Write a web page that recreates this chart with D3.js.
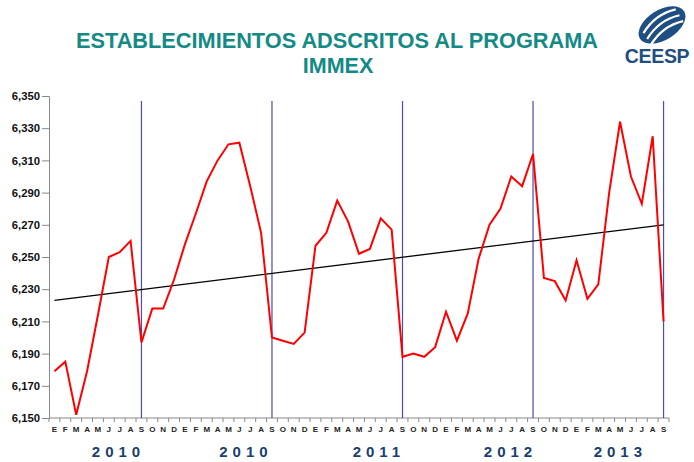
<!DOCTYPE html>
<html>
<head>
<meta charset="utf-8">
<script src="https://cdnjs.cloudflare.com/ajax/libs/d3/7.8.5/d3.min.js"></script>
<style>
  body { margin: 0; background: #fff; }
  svg { display: block; }
</style>
</head>
<body>
<div id="chart"></div>
<script>
// month labels (E = enero ... S = septiembre), Jan 2009 - Sep 2013
const monthLabels = ["E","F","M","A","M","J","J","A","S",
  "O","N","D","E","F","M","A","M","J","J","A","S",
  "O","N","D","E","F","M","A","M","J","J","A","S",
  "O","N","D","E","F","M","A","M","J","J","A","S",
  "O","N","D","E","F","M","A","M","J","J","A","S"];

const establecimientos = [6179, 6185, 6152, 6179, 6214, 6250, 6253, 6260, 6197,
  6218, 6218, 6236, 6258, 6277, 6297, 6310, 6320, 6321, 6294, 6265, 6200,
  6198, 6196, 6203, 6257, 6265, 6285, 6272, 6252, 6255, 6274, 6267, 6188,
  6190, 6188, 6194, 6216, 6198, 6215, 6249, 6270, 6280, 6300, 6294, 6314,
  6237, 6235, 6223, 6248, 6224, 6233, 6290, 6334, 6300, 6283, 6325, 6210];

// linear trend, value at first and last month
const trendValues = [6223, 6270];

// months where the blue separators are drawn (every September)
const separatorIdx = [8, 20, 32, 44, 56];

const yearLabels = ["2010", "2010", "2011", "2012", "2013"];
const yearCenters = [5.66, 17.38, 29.6, 41.7, 51.8]; // in month units

const yTicks = [6150, 6170, 6190, 6210, 6230, 6250, 6270, 6290, 6310, 6330, 6350];

const W = 694, H = 462;
const margin = { top: 96, right: 25, bottom: 44, left: 49 };
const width = W - margin.left - margin.right;
const height = H - margin.top - margin.bottom;

const svg = d3.select("#chart").append("svg")
  .attr("width", W).attr("height", H)
  .style("font-family", "'Liberation Sans', Arial, sans-serif");

// title
const title = svg.append("text")
  .attr("x", 337).attr("text-anchor", "middle")
  .style("font-weight", "bold").style("font-size", "21.5px")
  .style("fill", "#138a86");
title.append("tspan").attr("x", 337).attr("y", 48)
  .attr("textLength", 522).attr("lengthAdjust", "spacingAndGlyphs")
  .text("ESTABLECIMIENTOS ADSCRITOS AL PROGRAMA");
title.append("tspan").attr("x", 338).attr("y", 73).text("IMMEX");

// logo
const logo = svg.append("g");
const blob = logo.append("g").attr("transform", "translate(662,25) rotate(-32)");
blob.append("ellipse").attr("rx", 26).attr("ry", 15).attr("fill", "#1f4f82");
[-7, 0, 7].forEach(dy => {
  blob.append("path")
    .attr("d", `M-20,${dy + 4} Q0,${dy - 6} 20,${dy + 1}`)
    .attr("fill", "none").attr("stroke", "#fff").attr("stroke-width", 2.2);
});
logo.append("text").attr("x", 657).attr("y", 63)
  .attr("text-anchor", "middle")
  .style("font-weight", "bold").style("font-size", "19.5px")
  .style("letter-spacing", "-0.3px")
  .style("fill", "#1f4f82").text("CEESP");

const g = svg.append("g").attr("transform", `translate(${margin.left},${margin.top})`);

const x = d3.scaleBand().domain(d3.range(monthLabels.length)).range([0, width]);
const xc = i => x(i) + x.bandwidth() / 2;
const y = d3.scaleLinear().domain([6150, 6350]).range([height, 0]);

// y axis
const yAxis = g.append("g").call(d3.axisLeft(y).tickValues(yTicks)
  .tickFormat(d3.format(",")).tickSize(7).tickPadding(2));
yAxis.select(".domain").attr("stroke", "#888");
yAxis.selectAll(".tick line").attr("stroke", "#888");
yAxis.selectAll(".tick text").style("font-size", "11.3px").style("font-weight", "bold")
  .style("fill", "#111").style("font-family", "'Liberation Sans', Arial, sans-serif");

// x axis: ticks on month boundaries
const xAxis = g.append("g").attr("transform", `translate(0,${height})`);
xAxis.append("line").attr("x1", 0).attr("x2", width).attr("stroke", "#888");
xAxis.selectAll("line.tk").data(d3.range(monthLabels.length + 1)).join("line")
  .attr("class", "tk")
  .attr("x1", i => i * x.step()).attr("x2", i => i * x.step())
  .attr("y1", 0).attr("y2", 4).attr("stroke", "#888");
xAxis.selectAll("text").data(monthLabels).join("text")
  .attr("x", (d, i) => xc(i)).attr("y", 14)
  .attr("text-anchor", "middle")
  .style("font-size", "8px").style("font-weight", "bold").style("fill", "#222")
  .text(d => d);

// year labels
g.selectAll("text.year").data(yearLabels).join("text")
  .attr("class", "year")
  .attr("x", (d, i) => (yearCenters[i] + 0.5) * x.step() + 2.5)
  .attr("y", height + 39)
  .attr("text-anchor", "middle")
  .style("font-size", "15px").style("font-weight", "bold")
  .style("letter-spacing", "5px").style("fill", "#1a3f6e")
  .text(d => d);

// separators
g.selectAll("line.sep").data(separatorIdx).join("line")
  .attr("class", "sep")
  .attr("x1", i => xc(i)).attr("x2", i => xc(i))
  .attr("y1", 5).attr("y2", height)
  .attr("stroke", "#4b4bb0").attr("stroke-width", 1.2);

// trend line
g.append("line")
  .attr("x1", xc(0)).attr("x2", xc(monthLabels.length - 1))
  .attr("y1", y(trendValues[0])).attr("y2", y(trendValues[1]))
  .attr("stroke", "#000").attr("stroke-width", 1.3);

// main series
const line = d3.line().x((d, i) => xc(i)).y(d => y(d));
g.append("path").datum(establecimientos)
  .attr("d", line)
  .attr("fill", "none").attr("stroke", "#ff0000").attr("stroke-width", 2)
  .attr("stroke-linejoin", "miter");
</script>
</body>
</html>
